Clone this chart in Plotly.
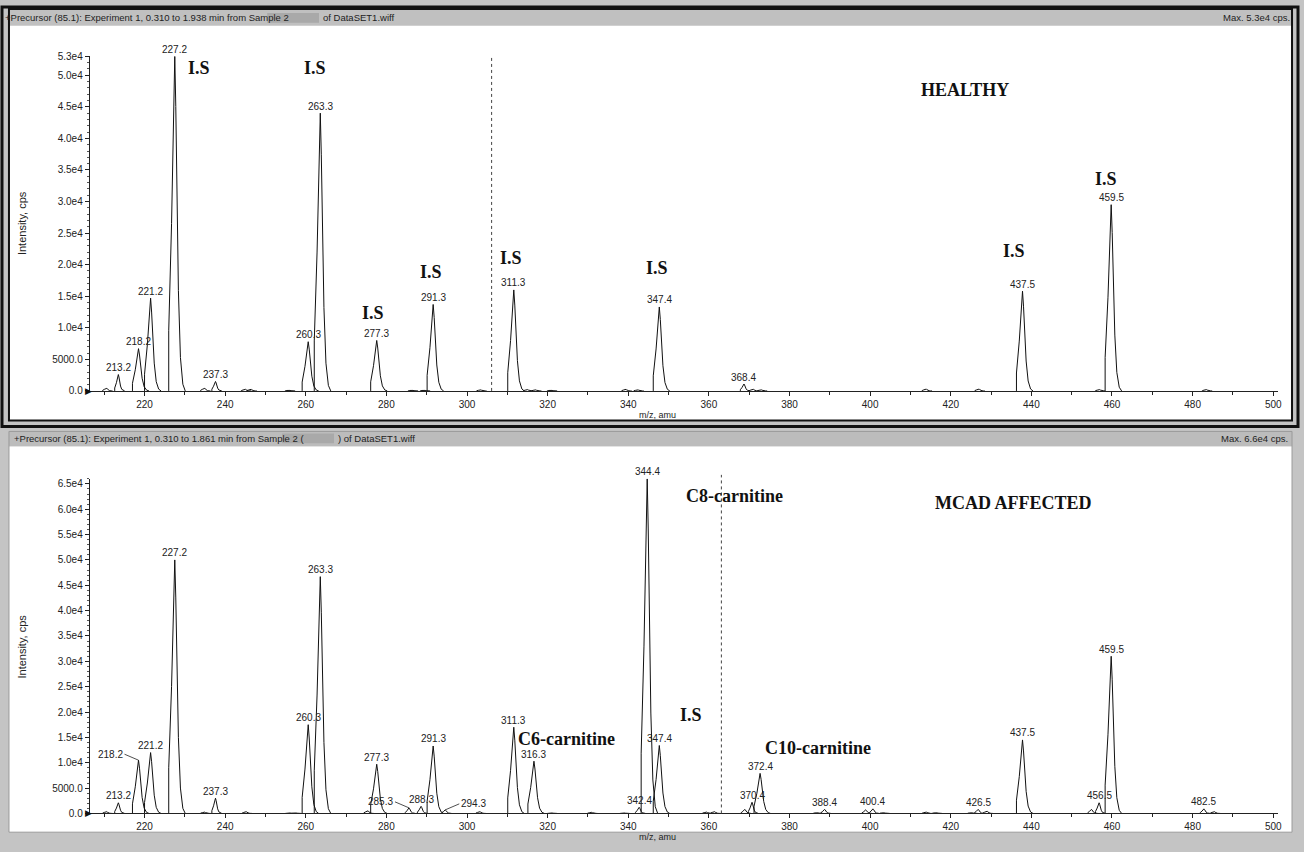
import plotly.graph_objects as go

W, H = 1304, 852

# ---------------- data ----------------
# HEALTHY spectrum: peak m/z and intensity (cps)
top_mz = [210.2, 213.2, 218.2, 221.2, 227.2, 234.5, 237.3, 244.6, 246.0, 255.5,
          260.3, 263.3, 277.3, 286.0, 289.0, 291.3, 303.0, 311.3, 314.6, 316.6,
          320.5, 339.0, 342.0, 347.4, 368.4, 370.6, 372.6, 413.5, 426.6, 437.5,
          456.5, 459.5, 483.0]
top_int = [500, 2600, 6700, 14700, 53000, 500, 1500, 300, 300, 150,
           7800, 44000, 8000, 150, 150, 13700, 200, 16000, 250, 200,
           150, 300, 200, 13300, 1100, 300, 200, 350, 350, 15800,
           250, 29500, 250]
top_labels = {213.2: "213.2", 218.2: "218.2", 221.2: "221.2", 227.2: "227.2",
              237.3: "237.3", 260.3: "260.3", 263.3: "263.3", 277.3: "277.3",
              291.3: "291.3", 311.3: "311.3", 347.4: "347.4", 368.4: "368.4",
              437.5: "437.5", 459.5: "459.5"}

# MCAD AFFECTED spectrum
bot_mz = [210.2, 213.2, 218.2, 221.2, 227.2, 234.5, 237.3, 244.8, 255.5, 257.0,
          260.3, 263.3, 275.0, 277.3, 285.3, 288.3, 291.3, 294.3, 302.8, 311.3,
          316.3, 320.5, 330.5, 338.5, 342.4, 344.4, 347.4, 359.0, 361.0, 368.6,
          370.4, 372.4, 386.5, 388.4, 398.6, 400.4, 403.0, 413.5, 416.0, 424.8,
          426.5, 428.6, 437.5, 454.6, 456.5, 459.5, 482.5, 485.0]
bot_int = [400, 2100, 10500, 12000, 50000, 300, 3000, 400, 150, 150,
           17500, 46700, 600, 9700, 1100, 1400, 13300, 700, 400, 17000,
           10300, 150, 250, 150, 1200, 66000, 13400, 300, 400, 800,
           2200, 7900, 200, 800, 700, 900, 200, 300, 200, 200,
           800, 500, 14500, 800, 2100, 31000, 900, 400]
bot_labels = {213.2: "213.2", 221.2: "221.2", 227.2: "227.2", 237.3: "237.3",
              260.3: "260.3", 263.3: "263.3", 277.3: "277.3", 288.3: "288.3",
              291.3: "291.3", 311.3: "311.3", 316.3: "316.3", 342.4: "342.4",
              344.4: "344.4", 347.4: "347.4", 370.4: "370.4", 372.4: "372.4",
              388.4: "388.4", 400.4: "400.4", 426.5: "426.5", 437.5: "437.5",
              456.5: "456.5", 459.5: "459.5", 482.5: "482.5"}
# labels drawn beside their peak with a short leader line (side: -1 left, +1 right)
bot_leader_labels = {218.2: ("218.2", -1), 285.3: ("285.3", -1), 294.3: ("294.3", 1)}

top_yticks = [0, 5000, 10000, 15000, 20000, 25000, 30000, 35000, 40000, 45000, 50000, 53000]
top_yticktext = ["0.0", "5000.0", "1.0e4", "1.5e4", "2.0e4", "2.5e4", "3.0e4", "3.5e4",
                 "4.0e4", "4.5e4", "5.0e4", "5.3e4"]
bot_yticks = [0, 5000, 10000, 15000, 20000, 25000, 30000, 35000, 40000, 45000, 50000,
              55000, 60000, 65000]
bot_yticktext = ["0.0", "5000.0", "1.0e4", "1.5e4", "2.0e4", "2.5e4", "3.0e4", "3.5e4",
                 "4.0e4", "4.5e4", "5.0e4", "5.5e4", "6.0e4", "6.5e4"]
xticks = [220, 240, 260, 280, 300, 320, 340, 360, 380, 400, 420, 440, 460, 480, 500]

top_header = "+Precursor (85.1): Experiment 1, 0.310 to 1.938 min from Sample 2"
top_header2 = "of DataSET1.wiff"
top_max = "Max. 5.3e4 cps."
bot_header = "+Precursor (85.1): Experiment 1, 0.310 to 1.861 min from Sample 2 ("
bot_header2 = ") of DataSET1.wiff"
bot_max = "Max. 6.6e4 cps."

# ---------------- styling constants ----------------
# relative shape of one profile peak (offset in amu, fraction of apex)
PROF_DX = [-1.2, -1.2, -0.5, 0.3, 0.55, 0.8, 1.2, 1.7, 2.3, 2.9]
PROF_FR = [0.0, 0.18, 0.5, 1.0, 0.85, 0.57, 0.3, 0.1, 0.02, 0.0]
APEX_DX = 0.3

X_RANGE = [206.4, 501.2]
SANS = "Liberation Sans, Arial, sans-serif"
SERIF = "Liberation Serif, Times New Roman, serif"


def profile(mzs, ints):
    xs, ys = [], []
    for m, h in zip(mzs, ints):
        scale = 1.0 if h > 3000 else 0.6
        for dx, fr in zip(PROF_DX, PROF_FR):
            xs.append(m + APEX_DX + (dx - APEX_DX) * scale)
            ys.append(h * fr)
        xs.append(None)
        ys.append(None)
    return xs, ys


def px(x):
    return x / W


def py(y):
    return 1 - y / H


fig = go.Figure()

tx, ty = profile(top_mz, top_int)
bx, by = profile(bot_mz, bot_int)
fig.add_trace(go.Scatter(x=tx, y=ty, mode="lines", line=dict(color="#111", width=1),
                         xaxis="x", yaxis="y", hoverinfo="skip", showlegend=False))
fig.add_trace(go.Scatter(x=bx, y=by, mode="lines", line=dict(color="#111", width=1),
                         xaxis="x2", yaxis="y2", hoverinfo="skip", showlegend=False))

axis_common = dict(showgrid=False, zeroline=False, showline=True, linecolor="#222",
                   linewidth=1, ticks="outside", ticklen=4, tickcolor="#222",
                   tickfont=dict(family=SANS, size=10, color="#222"))

top_dom_y = [py(391), py(52)]
bot_dom_y = [py(819), py(480)]
x_dom = [px(90), px(1282)]

fig.update_layout(
    width=W, height=H, margin=dict(l=0, r=0, t=0, b=0),
    paper_bgcolor="#c4c4c4", plot_bgcolor="rgba(0,0,0,0)",
    xaxis=dict(domain=x_dom, range=X_RANGE, anchor="y", tickvals=xticks,
               minor=dict(dtick=10, ticklen=3, ticks="outside", tickcolor="#222"),
               **axis_common),
    yaxis=dict(domain=top_dom_y, range=[0, 53000], anchor="x", tickvals=top_yticks,
               ticktext=top_yticktext,
               minor=dict(dtick=1000, ticklen=2, ticks="outside", tickcolor="#555"),
               **axis_common),
    xaxis2=dict(domain=x_dom, range=X_RANGE, anchor="y2", tickvals=xticks,
                minor=dict(dtick=10, ticklen=3, ticks="outside", tickcolor="#222"),
                **axis_common),
    yaxis2=dict(domain=bot_dom_y, range=[0, 66000], anchor="x2", tickvals=bot_yticks,
                ticktext=bot_yticktext,
                minor=dict(dtick=1000, ticklen=2, ticks="outside", tickcolor="#555"),
                **axis_common),
)

shapes = []
# panel backgrounds
shapes.append(dict(type="rect", xref="paper", yref="paper", x0=px(9), x1=px(1296),
                   y0=py(421), y1=py(4), fillcolor="white", line=dict(width=0), layer="below"))
shapes.append(dict(type="rect", xref="paper", yref="paper", x0=px(9), x1=px(1296),
                   y0=py(21), y1=py(5), fillcolor="#c0c0c0", line=dict(width=0), layer="below"))
shapes.append(dict(type="rect", xref="paper", yref="paper", x0=px(9), x1=px(1296),
                   y0=py(838), y1=py(447), fillcolor="white", line=dict(width=0), layer="below"))
shapes.append(dict(type="rect", xref="paper", yref="paper", x0=px(9), x1=px(1296),
                   y0=py(447), y1=py(432), fillcolor="#bcbcbc", line=dict(width=0), layer="below"))
# blurred sample names
shapes.append(dict(type="rect", xref="paper", yref="paper", x0=px(268), x1=px(320),
                   y0=py(18), y1=py(8), fillcolor="#a9a9a9", line=dict(width=0), layer="below"))
shapes.append(dict(type="rect", xref="paper", yref="paper", x0=px(283), x1=px(335),
                   y0=py(444), y1=py(434), fillcolor="#a9a9a9", line=dict(width=0), layer="below"))
# black double frame around the active (top) pane
shapes.append(dict(type="rect", xref="paper", yref="paper", x0=px(2), x1=px(1302),
                   y0=py(427), y1=py(2), line=dict(color="#111", width=3)))
shapes.append(dict(type="rect", xref="paper", yref="paper", x0=px(9), x1=px(1296),
                   y0=py(421), y1=py(4), line=dict(color="#111", width=2)))
# grey frame of the bottom pane
shapes.append(dict(type="rect", xref="paper", yref="paper", x0=px(9), x1=px(1296),
                   y0=py(838), y1=py(432), line=dict(color="#9a9a9a", width=1)))
# dotted vertical cursor lines (in data coords)
shapes.append(dict(type="line", xref="x", yref="paper", x0=306.1, x1=306.1,
                   y0=py(391), y1=py(53), line=dict(color="#444", width=1, dash="dot")))
shapes.append(dict(type="line", xref="x2", yref="paper", x0=363.1, x1=363.1,
                   y0=py(819), y1=py(476), line=dict(color="#444", width=1, dash="dot")))
fig.update_layout(shapes=shapes)

ann = []


def text_px(x, y, s, size=10, family=SANS, color="#222", xanchor="center", bold=False, angle=0):
    ann.append(dict(xref="paper", yref="paper", x=px(x), y=py(y), text=f"<b>{s}</b>" if bold else s,
                    showarrow=False, xanchor=xanchor, yanchor="middle", textangle=angle,
                    font=dict(family=family, size=size, color=color)))


# headers
text_px(3, 13, top_header, size=9.5, xanchor="left")
text_px(322, 13, top_header2, size=9.5, xanchor="left")
text_px(1296, 13, top_max, size=9.5, xanchor="right")
text_px(12, 439, bot_header, size=9.5, xanchor="left")
text_px(337, 439, bot_header2, size=9.5, xanchor="left")
text_px(1294, 439, bot_max, size=9.5, xanchor="right")
# axis titles
text_px(22, 221, "Intensity, cps", size=11, angle=-90)
text_px(22, 650, "Intensity, cps", size=11, angle=-90)
text_px(660, 415, "m/z, amu", size=9)
text_px(660, 843, "m/z, amu", size=9)
# origin markers
text_px(89, 391, "▶", size=9, color="#111")
text_px(89, 819, "▶", size=9, color="#111")

# peak labels
for m, h in zip(top_mz, top_int):
    if m in top_labels:
        ann.append(dict(xref="x", yref="y", x=m + APEX_DX, y=h, text=top_labels[m], showarrow=False,
                        yanchor="middle", yshift=7, font=dict(family=SANS, size=10, color="#222")))
for m, h in zip(bot_mz, bot_int):
    if m in bot_labels:
        ann.append(dict(xref="x2", yref="y2", x=m + APEX_DX, y=h, text=bot_labels[m], showarrow=False,
                        yanchor="middle", yshift=7, font=dict(family=SANS, size=10, color="#222")))
    if m in bot_leader_labels:
        s, side = bot_leader_labels[m]
        ann.append(dict(xref="x2", yref="y2", x=m + APEX_DX, y=h, text=s, showarrow=True,
                        arrowhead=0, arrowwidth=0.8, arrowcolor="#222", ax=14 * side, ay=-6,
                        xanchor="right" if side < 0 else "left",
                        font=dict(family=SANS, size=10, color="#222")))

# compound annotations (bold serif)
top_notes = [(200, 64, "I.S"), (316, 64, "I.S"), (374, 312, "I.S"), (432, 270, "I.S"),
             (513, 256, "I.S"), (659, 266, "I.S"), (1017, 249, "I.S"), (1109, 176, "I.S"),
             (968, 86, "HEALTHY")]
for x, y, s in top_notes:
    text_px(x, y, s, size=18, family=SERIF, color="#111", bold=True)
bot_notes = [(737, 497, "C8-carnitine"), (1017, 505, "MCAD AFFECTED"), (568, 744, "C6-carnitine"),
             (693, 719, "I.S"), (821, 753, "C10-carnitine")]
for x, y, s in bot_notes:
    text_px(x, y, s, size=18, family=SERIF, color="#111", bold=True)

fig.update_layout(annotations=ann)
fig.write_html("out.html")
